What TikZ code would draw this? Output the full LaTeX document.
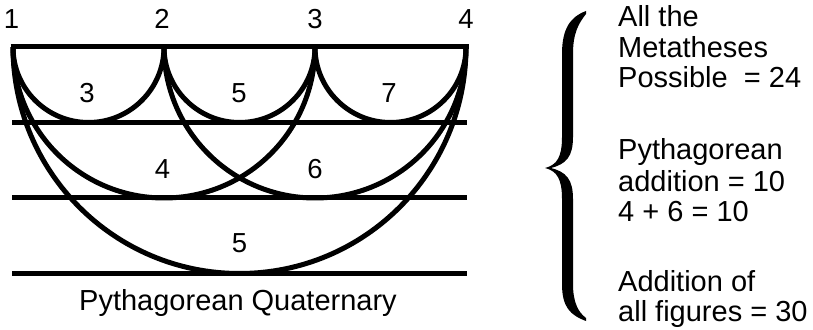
\documentclass[tikz,border=0pt]{standalone}
\usepackage{fontspec}
\setmainfont{Liberation Sans}
\begin{document}
\begin{tikzpicture}[x=1pt,y=1pt,
  rule/.style={line width=5pt},
  lbl/.style={inner sep=0pt,anchor=base,font=\fontsize{27.5}{30}\selectfont},
  txt/.style={inner sep=0pt,anchor=base west,font=\fontsize{29}{30}\selectfont}]
\useasboundingbox (0,0) rectangle (813,329);
% points
\coordinate (p1) at (13,282);
\coordinate (p2) at (164,282);
\coordinate (p3) at (315,282);
\coordinate (p4) at (466,282);
% horizontal lines
\coordinate (a1) at (10.5,282);  \coordinate (b1) at (468.5,282);
\coordinate (a2) at (12,206.5);  \coordinate (b2) at (467,206.5);
\coordinate (a3) at (12,131);    \coordinate (b3) at (467,131);
\coordinate (a4) at (12,55.5);   \coordinate (b4) at (467,55.5);
\draw[rule] (a1) -- (b1);
\draw[rule] (a2) -- (b2);
\draw[rule] (a3) -- (b3);
\draw[rule] (a4) -- (b4);
% arcs
\draw[rule] (p1) arc[start angle=180,end angle=360,radius=75.5];
\draw[rule] (p2) arc[start angle=180,end angle=360,radius=75.5];
\draw[rule] (p3) arc[start angle=180,end angle=360,radius=75.5];
\draw[rule] (p1) arc[start angle=180,end angle=360,radius=151];
\draw[rule] (p2) arc[start angle=180,end angle=360,radius=151];
\draw[rule] (p1) arc[start angle=180,end angle=360,radius=226.5];
% labels
\node[lbl] (n1) at (11.5,300) {1};
\node[lbl] (n2) at (162,300) {2};
\node[lbl] (n3) at (315,300) {3};
\node[lbl] (n4) at (466,300) {4};
\node[lbl] (s3) at (87,226) {3};
\node[lbl] (s5) at (239,226) {5};
\node[lbl] (s7) at (389,226) {7};
\node[lbl] (m4) at (162.5,150) {4};
\node[lbl] (m6) at (315,150) {6};
\node[lbl] (b5) at (239.5,76) {5};
\node[txt,anchor=base] (cap) at (238,19) {Pythagorean Quaternary};
% brace
\fill (586,318) .. controls (570,312) and (562,300) .. (562,275) -- (562,192)
  .. controls (562,172) and (557,164) .. (545,161)
  .. controls (557,158) and (562,150) .. (562,130) -- (562,45)
  .. controls (562,22) and (570,14) .. (586,8) -- (586,11)
  .. controls (578,17) and (573,27) .. (573,45) -- (573,130)
  .. controls (573,150) and (566,157) .. (551,161)
  .. controls (566,165) and (573,172) .. (573,192) -- (573,275)
  .. controls (573,295) and (578,305) .. (586,315) -- cycle;
% right text
\node[txt] (t1) at (618,302) {All the};
\node[txt] (t2) at (618,271) {Metatheses};
\node[txt] (t3) at (618,241) {Possible~~= 24};
\node[txt] (t4) at (618,169) {Pythagorean};
\node[txt] (t5) at (618,137) {addition = 10};
\node[txt] (t6) at (618,107) {4 + 6 = 10};
\node[txt] (t7) at (618,37) {Addition of};
\node[txt] (t8) at (618,8) {all figures = 30};
\end{tikzpicture}
\end{document}
